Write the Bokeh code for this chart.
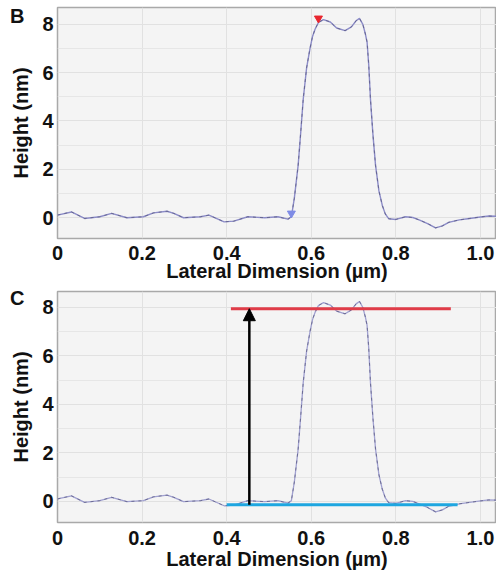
from bokeh.plotting import figure
from bokeh.layouts import column
from bokeh.models import Arrow, NormalHead, Range1d, FixedTicker, LinearAxis
from bokeh.embed import file_html
from bokeh.resources import INLINE

# Height profile (lateral position in µm, height in nm)
profile_x = [0.0, 0.033, 0.064, 0.10, 0.128, 0.164, 0.203, 0.227, 0.259, 0.275,
             0.298, 0.338, 0.358, 0.394, 0.417, 0.45, 0.49, 0.521, 0.545, 0.553,
             0.560, 0.569, 0.575, 0.581, 0.589, 0.597, 0.603, 0.609, 0.617, 0.629,
             0.645, 0.66, 0.68, 0.695, 0.706, 0.714, 0.722, 0.728, 0.732, 0.736,
             0.740, 0.746, 0.752, 0.760, 0.768, 0.775, 0.783, 0.80, 0.823, 0.84,
             0.855, 0.875, 0.894, 0.91, 0.925, 0.95, 0.97, 1.0, 1.02, 1.045]
profile_y = [0.10, 0.23, -0.04, 0.03, 0.17, -0.01, 0.03, 0.19, 0.26, 0.17,
             -0.01, 0.03, 0.10, -0.18, -0.15, 0.03, -0.01, 0.03, -0.07, 0.03,
             0.8, 2.16, 3.5, 4.9, 6.2, 7.0, 7.5, 7.8, 8.08, 8.2,
             8.1, 7.85, 7.74, 7.9, 8.15, 8.25, 8.0, 7.6, 7.26, 6.3,
             4.9, 3.4, 2.16, 1.1, 0.5, 0.15, -0.05, -0.08, 0.03, 0.0,
             -0.1, -0.25, -0.43, -0.35, -0.2, -0.1, -0.05, 0.02, 0.06, 0.05]

# Markers in panel B
marker_top = (0.617, 8.25)
marker_bottom = (0.553, 0.17)

# Level lines in panel C
top_level = 7.95
top_x = [0.41, 0.93]
bottom_level = -0.14
bottom_x = [0.40, 0.946]
arrow_x = 0.4536

x_ticks = [0, 0.2, 0.4, 0.6, 0.8, 1.0]
x_tick_labels = {0: "0", 0.2: "0.2", 0.4: "0.4", 0.6: "0.6", 0.8: "0.8", 1.0: "1.0"}
y_ticks = [0, 2, 4, 6, 8]
y_minor = [1, 3, 5, 7]
panel_letters = ["B", "C"]

FONT = "Liberation Sans"


def style_axis(ax):
    ax.axis_line_color = None
    ax.major_tick_line_color = None
    ax.minor_tick_line_color = None
    ax.major_label_text_font = FONT
    ax.major_label_text_font_style = "bold"
    ax.major_label_text_font_size = "20px"
    ax.major_label_text_color = "#111111"
    ax.axis_label_text_font = FONT
    ax.axis_label_text_font_style = "bold"
    ax.axis_label_text_font_size = "20px"
    ax.axis_label_text_color = "#111111"


def make_fig(height, top_border, bottom_border, y_range, letter, letter_y,
             xlab_standoff, xaxis_standoff):
    p = figure(width=496, height=height, output_backend="svg", toolbar_location=None,
               x_range=Range1d(0, 1.038), y_range=Range1d(*y_range),
               min_border_left=57, min_border_right=0,
               min_border_top=top_border, min_border_bottom=bottom_border)
    p.background_fill_color = "#f4f4f4"
    p.border_fill_color = "white"
    p.outline_line_color = "#a9a9a9"
    p.outline_line_width = 1.5
    for ax in (p.xaxis, p.yaxis):
        style_axis(ax)
    p.yaxis.major_tick_out = 0
    p.yaxis.major_tick_in = 0
    p.yaxis.minor_tick_out = 0
    p.xaxis.ticker = FixedTicker(ticks=x_ticks)
    p.xaxis.major_label_overrides = x_tick_labels
    p.yaxis.ticker = FixedTicker(ticks=y_ticks, minor_ticks=y_minor)
    p.xaxis.axis_label = "Lateral Dimension (µm)"
    p.yaxis.axis_label = "Height (nm)"
    p.xaxis.major_label_standoff = xlab_standoff
    p.xaxis.axis_label_standoff = xaxis_standoff
    p.yaxis.major_label_standoff = 4
    p.yaxis.axis_label_standoff = 7
    p.xgrid.grid_line_color = "#e1e1e1"
    p.ygrid.grid_line_color = "#e1e1e1"
    p.ygrid.minor_grid_line_color = "#e6e6e6"
    # panel letter drawn as the single tick label of an extra outer axis
    letter_axis = LinearAxis(ticker=FixedTicker(ticks=[letter_y], minor_ticks=[]),
                             major_label_overrides={letter_y: letter},
                             major_label_standoff=-17,
                             major_tick_out=0, major_tick_in=0, minor_tick_out=0)
    style_axis(letter_axis)
    p.add_layout(letter_axis, "left")
    return p


# Panel B
pb = make_fig(284, 7, 45, (-0.87, 8.70), panel_letters[0], 8.33, 1, -3)
pb.line(profile_x, profile_y, line_color="#8c8cc8", line_width=1.4)
pb.line(profile_x, profile_y, line_color="#55557a", line_width=1, line_dash="3 4", line_alpha=0.7)
pb.scatter([marker_top[0]], [marker_top[1]], marker="inverted_triangle", size=8,
           fill_color="#e8262f", line_color="#e8262f")
pb.scatter([marker_bottom[0]], [marker_bottom[1]], marker="inverted_triangle", size=8,
           fill_color="#7f8ce6", line_color="#7f8ce6")

# Panel C
pc = make_fig(288, 7, 50, (-0.87, 8.66), panel_letters[1], 8.41, 2, 0)
pc.line(profile_x, profile_y, line_color="#a0a0d0", line_width=1.3)
pc.line(profile_x, profile_y, line_color="#55557a", line_width=1, line_dash="3 4", line_alpha=0.7)
pc.line(top_x, [top_level, top_level], line_color="#e03c48", line_width=3)
pc.line(bottom_x, [bottom_level, bottom_level], line_color="#1ea6e0", line_width=3)
pc.add_layout(Arrow(x_start=arrow_x, y_start=bottom_level, x_end=arrow_x, y_end=top_level,
                    line_color="black", line_width=2.5,
                    end=NormalHead(size=12, fill_color="black", line_color="black")))

layout = column(pb, pc, spacing=0)
open("out.html", "w").write(file_html(layout, INLINE))
